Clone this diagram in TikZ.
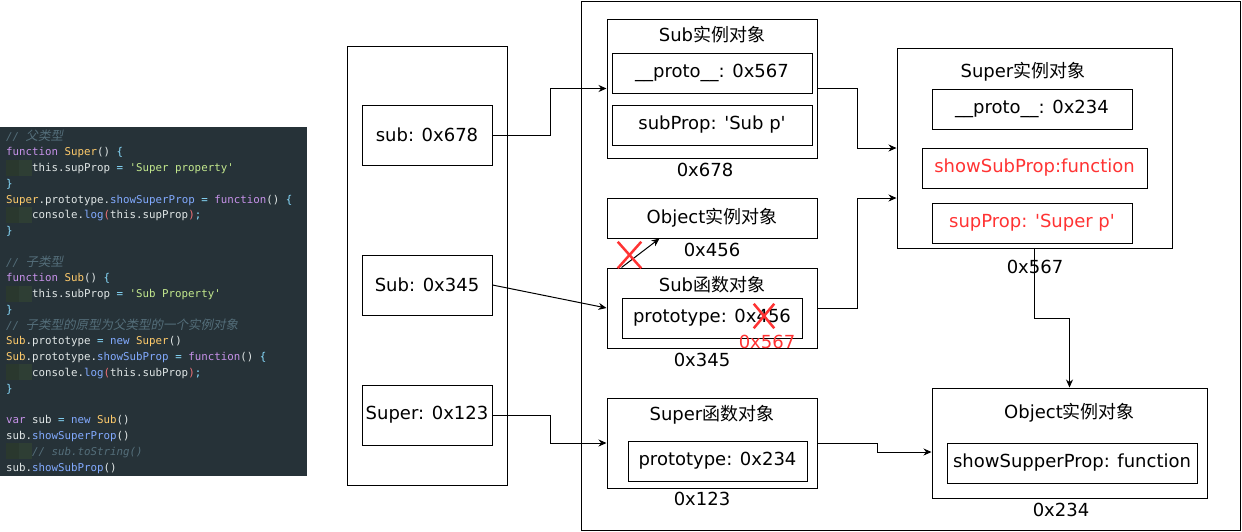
\documentclass[tikz,border=0pt]{standalone}
\usepackage{fontspec}
\setmainfont{DejaVu Sans}
\setmonofont{DejaVu Sans Mono}
\newfontfamily\cjk{Noto Sans CJK SC}
\newfontfamily\cjkit[FakeSlant=0.2]{Noto Sans CJK SC}
\usepackage{tikz}
\usetikzlibrary{arrows.meta,positioning,shapes.misc}
\usepackage{xcolor}
\definecolor{codebg}{RGB}{38,50,56}
\definecolor{codetext}{RGB}{224,230,230}
\definecolor{codecmt}{RGB}{84,110,122}
\definecolor{codekw}{RGB}{199,146,234}
\definecolor{codefn}{RGB}{255,203,107}
\definecolor{codestr}{RGB}{195,232,141}
\definecolor{codeprop}{RGB}{130,170,255}
\definecolor{codeop}{RGB}{137,221,255}
\definecolor{codepar}{RGB}{240,113,120}
\definecolor{guideA}{RGB}{42,56,46}
\definecolor{guideB}{RGB}{46,62,52}
\definecolor{diagred}{RGB}{255,51,51}
\newcommand{\ckw}[1]{\textcolor{codekw}{#1}}
\newcommand{\cfn}[1]{\textcolor{codefn}{#1}}
\newcommand{\cstr}[1]{\textcolor{codestr}{#1}}
\newcommand{\cprop}[1]{\textcolor{codeprop}{#1}}
\newcommand{\cop}[1]{\textcolor{codeop}{#1}}
\newcommand{\cpar}[1]{\textcolor{codepar}{#1}}
\newcommand{\ccm}[1]{\textcolor{codecmt}{\itshape #1}}
\newcommand{\sq}{\textquotesingle}
\tikzset{
    box/.style={rectangle, draw=black, line width=1pt, inner sep=0pt},
    field/.style={box, minimum height=40pt, font=\fontsize{18}{22}\selectfont},
    slot/.style={box, minimum width=130pt, minimum height=60pt, font=\fontsize{18}{22}\selectfont},
    txt/.style={inner sep=0pt, font=\fontsize{18}{22}\selectfont},
    redtxt/.style={txt, text=diagred},
    code/.style={inner sep=0pt, anchor=base west, font=\ttfamily\fontsize{10.8}{13}\selectfont, text=codetext},
    arr/.style={line width=1pt, -{Stealth[length=8pt,width=7pt]}},
    redcross/.style={cross out, draw=diagred, line width=2.5pt, inner sep=0pt},
}
\begin{document}
\begin{tikzpicture}[x=1pt,y=-1pt]
    \useasboundingbox (0,0) rectangle (1242,531);

    % Code panel
    \fill[codebg] (0,127) rectangle (307,476);
    \foreach \yy in {167.5,214.8,293.6,372.4,451.2} {
        \fill[guideA] (6,\yy-8) rectangle (19,\yy+8);
        \fill[guideB] (19,\yy-8) rectangle (32,\yy+8);
    }
    \node[code] (c0) at (6,140) {\ccm{// {\cjkit\fontsize{12.5}{15}\selectfont 父类型}}};
    \node[code] (c1) at (6,155.8) {\ckw{function} \cfn{Super}() \cop{\{}};
    \node[code] (c2) at (32,171.5) {this.supProp \cop{=} \cstr{\sq Super property\sq}};
    \node[code] (c3) at (6,187.3) {\cop{\}}};
    \node[code] (c4) at (6,203) {\cfn{Super}.prototype.\cprop{showSuperProp} \cop{=} \ckw{function}() \cop{\{}};
    \node[code] (c5) at (32,218.8) {console.\cprop{log}\cpar{(}this.supProp\cpar{)}\cop{;}};
    \node[code] (c6) at (6,234.6) {\cop{\}}};
    \node[code] (c8) at (6,266.1) {\ccm{// {\cjkit\fontsize{12.5}{15}\selectfont 子类型}}};
    \node[code] (c9) at (6,281.8) {\ckw{function} \cfn{Sub}() \cop{\{}};
    \node[code] (c10) at (32,297.6) {this.subProp \cop{=} \cstr{\sq Sub Property\sq}};
    \node[code] (c11) at (6,313.4) {\cop{\}}};
    \node[code] (c12) at (6,329.1) {\ccm{// {\cjkit\fontsize{12.5}{15}\selectfont 子类型的原型为父类型的一个实例对象}}};
    \node[code] (c13) at (6,344.9) {\cfn{Sub}.prototype \cop{=} \cprop{new} \cfn{Super}()};
    \node[code] (c14) at (6,360.6) {\cfn{Sub}.prototype.\cprop{showSubProp} \cop{=} \ckw{function}() \cop{\{}};
    \node[code] (c15) at (32,376.4) {console.\cprop{log}\cpar{(}this.subProp\cpar{)}\cop{;}};
    \node[code] (c16) at (6,392.2) {\cop{\}}};
    \node[code] (c18) at (6,423.7) {\ckw{var} sub \cop{=} \cprop{new} \cfn{Sub}()};
    \node[code] (c19) at (6,439.4) {sub.\cprop{showSuperProp}()};
    \node[code] (c20) at (32,455.2) {\ccm{// sub.toString()}};
    \node[code] (c21) at (6,471) {sub.\cprop{showSubProp}()};

    % Stack
    \node[box, minimum width=160pt, minimum height=439pt] (stack) at (427,265.5) {};
    \node[slot] (refSub) at (427,135) {sub: 0x678};
    \node[slot] (refSubFn) at (427,285) {Sub: 0x345};
    \node[slot] (refSuperFn) at (427,415) {Super: 0x123};

    % Heap
    \node[box, minimum width=659pt, minimum height=529pt] (heap) at (910.5,265.5) {};

    % Sub instance
    \node[box, minimum width=210pt, minimum height=139pt] (subInst) at (712,88.5) {};
    \node[txt] (subInstT) at (712,35) {Sub{\cjk 实例对象}};
    \node[field, minimum width=200pt] (subProto) at (712,73) {\_\_proto\_\_: 0x567};
    \node[field, minimum width=200pt] (subProp) at (712,125) {subProp: \sq Sub p\sq};
    \node[txt] (subInstAddr) at (705,170) {0x678};

    % Object instance (old prototype)
    \node[box, minimum width=210pt, minimum height=40pt, font=\fontsize{18}{22}\selectfont] (objTop) at (712,218) {Object{\cjk 实例对象}};
    \node[txt] (objTopAddr) at (712,250) {0x456};

    % Sub function
    \node[box, minimum width=210pt, minimum height=80pt] (subFn) at (712,308) {};
    \node[txt] (subFnT) at (712,285) {Sub{\cjk 函数对象}};
    \node[field, minimum width=180pt] (subFnProto) at (712,318) {prototype: 0x456};
    \node[txt] (subFnAddr) at (702,360) {0x345};
    \node[redtxt] (newAddr) at (767,342) {0x567};
    \node[redcross, minimum width=18pt, minimum height=22pt] (xOld) at (764,316) {};

    % Super function
    \node[box, minimum width=210pt, minimum height=90pt] (superFn) at (712,443) {};
    \node[txt] (superFnT) at (712,415) {Super{\cjk 函数对象}};
    \node[field, minimum width=179pt] (superFnProto) at (717.5,461) {prototype: 0x234};
    \node[txt] (superFnAddr) at (702,499) {0x123};

    % Super instance
    \node[box, minimum width=275pt, minimum height=200pt] (superInst) at (1034.5,148) {};
    \node[txt] (superInstT) at (1023,72) {Super{\cjk 实例对象}};
    \node[field, minimum width=200pt] (superProto) at (1032,109) {\_\_proto\_\_: 0x234};
    \node[field, minimum width=225pt, text=diagred] (showSub) at (1034.5,168) {showSubProp:function};
    \node[field, minimum width=200pt, text=diagred] (supProp) at (1032,223) {supProp: \sq Super p\sq};
    \node[txt] (superInstAddr) at (1035,267) {0x567};

    % Object instance
    \node[box, minimum width=275pt, minimum height=110pt] (objBot) at (1069.5,443) {};
    \node[txt] (objBotT) at (1069.5,413) {Object{\cjk 实例对象}};
    \node[field, minimum width=250pt] (showSuper) at (1072,463) {showSupperProp: function};
    \node[txt] (objBotAddr) at (1061,510) {0x234};

    % Connections
    \draw[arr] (refSub.east) -- ++(58,0) |- (subInst.west);
    \draw[arr] (subInst.east) -- ++(40,0) |- (superInst.west);
    \draw[arr] (refSubFn.east) -- (subFn.west);
    \draw[arr] (subFn.east) -- ++(40,0) |- ([yshift=-50pt]superInst.west);
    \draw[arr] (refSuperFn.east) -- ++(58,0) |- (superFn.west);
    \draw[arr] (superFn.east) -- ++(60,0) |- ([yshift=-9pt]objBot.west);
    \draw[arr] (superInst.south) -- ++(0,70) -| (objBot.north);
    \draw[arr] ([xshift=15pt]subFn.north west) -- ([xshift=53pt]objTop.south west);
    \node[redcross, minimum width=21pt, minimum height=24pt] (xLink) at (629.5,255) {};
\end{tikzpicture}
\end{document}
